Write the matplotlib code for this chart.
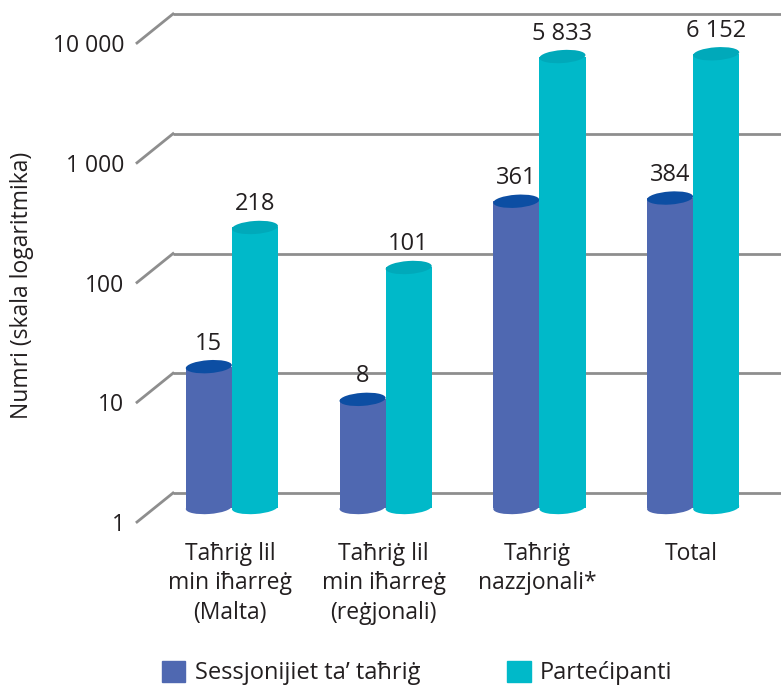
import matplotlib.pyplot as plt
from matplotlib.patches import Rectangle, Ellipse, Patch
from matplotlib.lines import Line2D
from matplotlib.transforms import offset_copy, IdentityTransform

plt.rcParams['font.family'] = ['Open Sans', 'DejaVu Sans']

# data
categories = ['Taħriġ lil\nmin iħarreġ\n(Malta)', 'Taħriġ lil\nmin iħarreġ\n(reġjonali)',
              'Taħriġ\nnazzjonali*', 'Total']
sessions = [15, 8, 361, 384]
participants = [218, 101, 5833, 6152]
series_names = ['Sessjonijiet ta’ taħriġ', 'Partećipanti']
yticks = [1, 10, 100, 1000, 10000]
ytick_labels = ['1', '10', '100', '1 000', '10 000']
value_labels = [['15', '8', '361', '384'], ['218', '101', '5 833', '6 152']]

body_colors = ['#4f68b1', '#00b9c9']
top_colors = ['#0c4ea3', '#00a9ba']
grid_col = '#8e8e8e'
txt_col = '#231f20'

fig = plt.figure(figsize=(7.81, 6.89), dpi=100)
W, H = 781, 689
ax = fig.add_axes([137 / W, 167 / H, 615 / W, 479 / H])
ax.set_yscale('log')
ax.set_ylim(1, 10000)
ax.set_xlim(-0.5, 3.5)
for s in ax.spines.values():
    s.set_visible(False)
ax.set_xticks([])
ax.set_yticks(yticks, ytick_labels)
ax.yaxis.set_minor_locator(plt.NullLocator())
ax.tick_params(axis='y', length=0, pad=9, labelsize=16.5, labelcolor=txt_col)
ax.patch.set_visible(False)

# depth offsets (pixels)
dx, dy = 36, 29
back = offset_copy(ax.transData, fig=fig, x=dx, y=dy, units='dots')
mid = offset_copy(ax.transData, fig=fig, x=dx / 2, y=dy / 2, units='dots')

# back wall grid + side diagonals
for v in yticks:
    ax.plot([-0.5, 3.5], [v, v], color=grid_col, lw=2, transform=back,
            clip_on=False, zorder=1, solid_capstyle='butt')
    fx, fy = ax.transData.transform((-0.5, v))
    fig.add_artist(Line2D([fx, fx + dx], [fy, fy + dy], color=grid_col, lw=2,
                          transform=IdentityTransform(), zorder=1))

# cylinders
bw = 0.3
for i, vals in enumerate([sessions, participants]):
    for j, v in enumerate(vals):
        x = j + (i - 0.5) * bw
        z = 3 + i * 0.5 + j
        ax.add_patch(Rectangle((x - bw / 2, 1), bw, v - 1, transform=mid,
                               color=body_colors[i], lw=0, clip_on=False, zorder=z))
        x0, yb = mid.transform((x - bw / 2, 1))
        x1, yt = mid.transform((x + bw / 2, v))
        cx = (x0 + x1) / 2
        w = x1 - x0
        ax.add_artist(Ellipse((cx, yb), w, 13, angle=4, transform=IdentityTransform(),
                              color=body_colors[i], lw=0, zorder=z))
        ax.add_artist(Ellipse((cx, yt), w, 13, angle=4, transform=IdentityTransform(),
                              color=top_colors[i], lw=0, zorder=z + 0.1))
        lab = offset_copy(ax.transData, fig=fig, x=dx / 2, y=dy / 2 + 11, units='dots')
        ax.text(x, v, value_labels[i][j], transform=lab, ha='center', va='bottom',
                fontsize=17, color=txt_col, zorder=10)

# category labels
cat_tr = offset_copy(ax.transData, fig=fig, x=dx / 2 - 2, y=-20, units='dots')
for j, c in enumerate(categories):
    ax.text(j, 1, c, transform=cat_tr, ha='center', va='top', fontsize=16.5,
            color=txt_col, linespacing=1.3)

fig.text(22 / W, 1 - 285 / H, 'Numri (skala logaritmika)', rotation=90,
         ha='center', va='center', fontsize=16.5, color=txt_col)

handles = [Patch(color=body_colors[0]), Patch(color=body_colors[1])]
fig.legend(handles, series_names, loc='center left', bbox_to_anchor=(162 / W, 16 / H),
           ncol=2, frameon=False, fontsize=17, handlelength=0.98, handleheight=0.98,
           handletextpad=0.4, columnspacing=3.7, borderpad=0, borderaxespad=0,
           labelcolor=txt_col)

fig.savefig('out.png', dpi=100)
